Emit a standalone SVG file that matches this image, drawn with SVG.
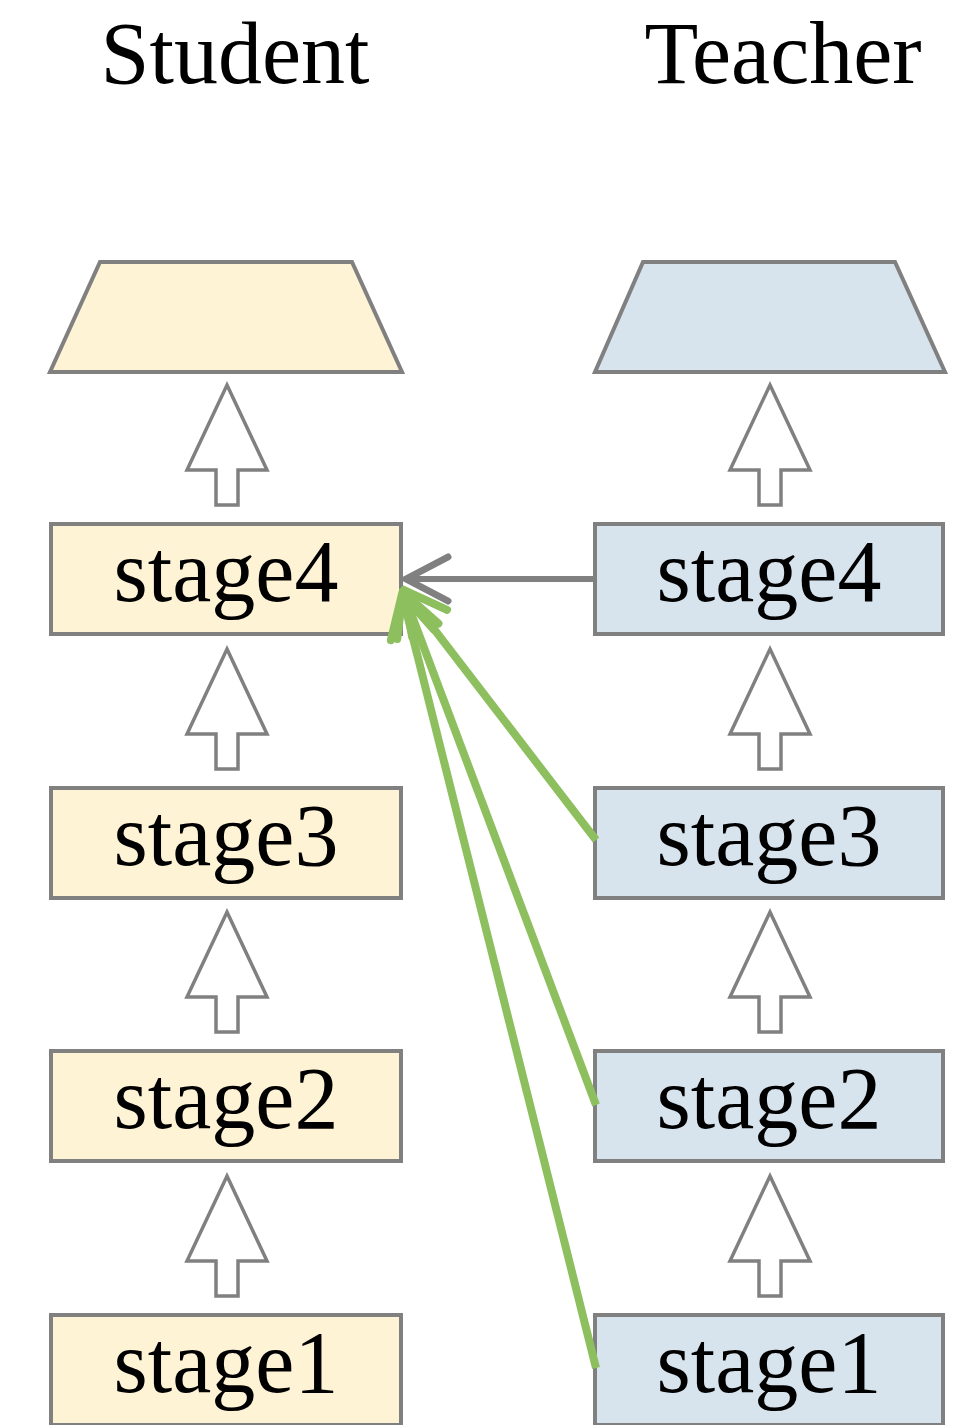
<svg xmlns="http://www.w3.org/2000/svg" width="973" height="1425" viewBox="0 0 973 1425">
<style>
.t{font-family:"Liberation Serif","Times New Roman",serif;font-size:88px;fill:#000;text-anchor:middle}
.s{fill:#fff3d6;stroke:#808080;stroke-width:4}
.c{fill:#d7e3ed;stroke:#808080;stroke-width:4}
.up{fill:#fff;stroke:#808080;stroke-width:3.5}
.g{stroke:#8dbf5f;stroke-width:8;fill:none}
.k{stroke:#808080;stroke-width:6;fill:none}
</style>
<defs>
<path id="up" class="up" d="M0,0 L40,85 L11,85 L11,120 L-11,120 L-11,85 L-40,85 Z"/>
<marker id="mk" markerUnits="userSpaceOnUse" markerWidth="60" markerHeight="60" refX="56" refY="25" orient="auto" viewBox="0 0 60 50">
<path d="M14,3 L56,25 L14,47" fill="none" stroke="#808080" stroke-width="7" stroke-linecap="round" stroke-linejoin="miter"/>
</marker>
<marker id="mg" markerUnits="userSpaceOnUse" markerWidth="60" markerHeight="60" refX="56" refY="25" orient="auto" viewBox="0 0 60 50">
<path d="M14,3 L56,25 L14,47" fill="none" stroke="#8dbf5f" stroke-width="8" stroke-linecap="round"/>
</marker>
</defs>
<text class="t" x="235" y="83">Student</text>
<text class="t" x="783" y="83">Teacher</text>
<g id="student-head"><path class="s" d="M100,262 L352,262 L402,372 L50,372 Z"/></g>
<g id="teacher-head"><path class="c" d="M643,262 L895,262 L945,372 L595,372 Z"/></g>
<g id="student-stage4"><rect class="s" x="51" y="524" width="350" height="110"/><text class="t" x="226" y="601">stage4</text></g>
<g id="student-stage3"><rect class="s" x="51" y="788" width="350" height="110"/><text class="t" x="226" y="865">stage3</text></g>
<g id="student-stage2"><rect class="s" x="51" y="1051" width="350" height="110"/><text class="t" x="226" y="1128">stage2</text></g>
<g id="student-stage1"><rect class="s" x="51" y="1315" width="350" height="110"/><text class="t" x="226" y="1392">stage1</text></g>
<g id="teacher-stage4"><rect class="c" x="595" y="524" width="348" height="110"/><text class="t" x="769" y="601">stage4</text></g>
<g id="teacher-stage3"><rect class="c" x="595" y="788" width="348" height="110"/><text class="t" x="769" y="865">stage3</text></g>
<g id="teacher-stage2"><rect class="c" x="595" y="1051" width="348" height="110"/><text class="t" x="769" y="1128">stage2</text></g>
<g id="teacher-stage1"><rect class="c" x="595" y="1315" width="348" height="110"/><text class="t" x="769" y="1392">stage1</text></g>
<g id="connectors">
<use href="#up" x="227" y="385"/>
<use href="#up" x="227" y="649"/>
<use href="#up" x="227" y="912"/>
<use href="#up" x="227" y="1176"/>
<use href="#up" x="770" y="385"/>
<use href="#up" x="770" y="649"/>
<use href="#up" x="770" y="912"/>
<use href="#up" x="770" y="1176"/>
<line class="k" x1="595" y1="579" x2="406" y2="579" marker-end="url(#mk)"/>
<line class="g" x1="596" y1="840" x2="404" y2="590" marker-end="url(#mg)"/>
<line class="g" x1="596" y1="1105" x2="403" y2="592" marker-end="url(#mg)"/>
<line class="g" x1="596" y1="1368" x2="402" y2="594" marker-end="url(#mg)"/>
</g>
</svg>
